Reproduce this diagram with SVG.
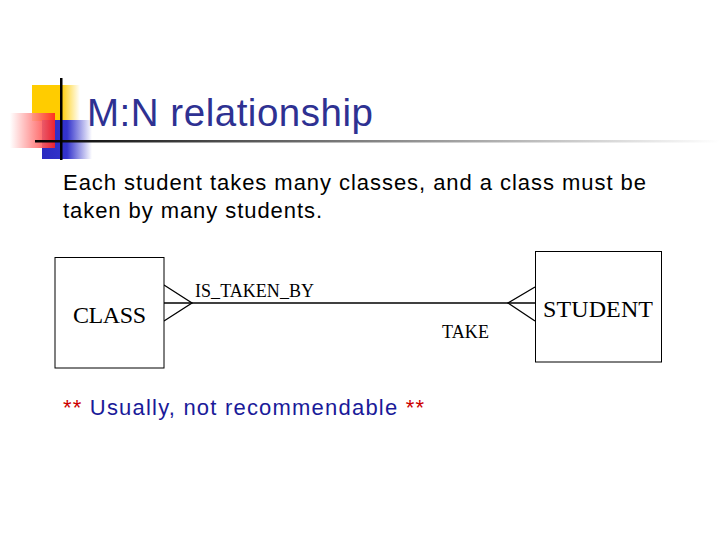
<svg xmlns="http://www.w3.org/2000/svg" width="720" height="540" viewBox="0 0 720 540">
<defs>
<linearGradient id="gy" x1="0" y1="0" x2="1" y2="0"><stop offset="0" stop-color="#ffcc00"/><stop offset="0.6" stop-color="#ffcc00"/><stop offset="1" stop-color="#ffffff"/></linearGradient>
<linearGradient id="gb" x1="0" y1="0" x2="1" y2="0"><stop offset="0" stop-color="#2a2ac0"/><stop offset="0.5" stop-color="#3333cc"/><stop offset="1" stop-color="#ffffff"/></linearGradient>
<linearGradient id="gr" x1="0" y1="0" x2="1" y2="0"><stop offset="0" stop-color="#ffffff"/><stop offset="1" stop-color="#ff2020"/></linearGradient>
<linearGradient id="gl" x1="0" y1="0" x2="1" y2="0"><stop offset="0" stop-color="#000000"/><stop offset="0.3" stop-color="#555555"/><stop offset="1" stop-color="#ffffff"/></linearGradient>
<style>
.ent{fill:#ffffff;stroke:#000000;stroke-width:1}
.ln{stroke:#000000;stroke-width:1.3;fill:none}
.tm{font-family:"Liberation Serif",serif;fill:#000000}
.sans{font-family:"Liberation Sans",Arial,sans-serif}
</style>
</defs>
<rect width="720" height="540" fill="#ffffff"/>
<g id="logo">
<rect x="32" y="85" width="48" height="36" fill="url(#gy)"/>
<rect x="42" y="120" width="50" height="39" fill="url(#gb)"/>
<rect x="10" y="113" width="45" height="35" fill="url(#gr)" opacity="0.9"/>
<rect x="35" y="140" width="685" height="2.5" fill="url(#gl)"/>
<rect x="60" y="78" width="2.5" height="82" fill="#000000"/>
</g>
<text class="sans" x="87" y="126" font-size="38.5" fill="#2e3192" textLength="286" lengthAdjust="spacing">M:N relationship</text>
<text class="sans" x="63" y="190" font-size="22" fill="#000000" textLength="583" lengthAdjust="spacing">Each student takes many classes, and a class must be</text>
<text class="sans" x="63" y="218" font-size="22" fill="#000000" textLength="259" lengthAdjust="spacing">taken by many students.</text>
<g id="connectors">
<line class="ln" x1="164" y1="303" x2="535" y2="303"/>
<polyline class="ln" points="164,285 192,303 164,321"/>
<polyline class="ln" points="535,287 508,303 535,321"/>
<text class="tm" x="195" y="297" font-size="18" textLength="119" lengthAdjust="spacing">IS_TAKEN_BY</text>
<text class="tm" x="442" y="338" font-size="18" textLength="47" lengthAdjust="spacing">TAKE</text>
</g>
<g id="class">
<rect class="ent" x="55" y="257.500" width="109" height="110.5"/>
<text class="tm" x="73" y="323" font-size="24" textLength="73" lengthAdjust="spacing">CLASS</text>
</g>
<g id="student">
<rect class="ent" x="535.500" y="251.500" width="126" height="110.5"/>
<text class="tm" x="543" y="317" font-size="24" textLength="110" lengthAdjust="spacing">STUDENT</text>
</g>
<text class="sans" x="63" y="415" font-size="22" textLength="361" lengthAdjust="spacing"><tspan fill="#cc0000">**</tspan><tspan fill="#1a1a99"> Usually, not recommendable </tspan><tspan fill="#cc0000">**</tspan></text>
</svg>
